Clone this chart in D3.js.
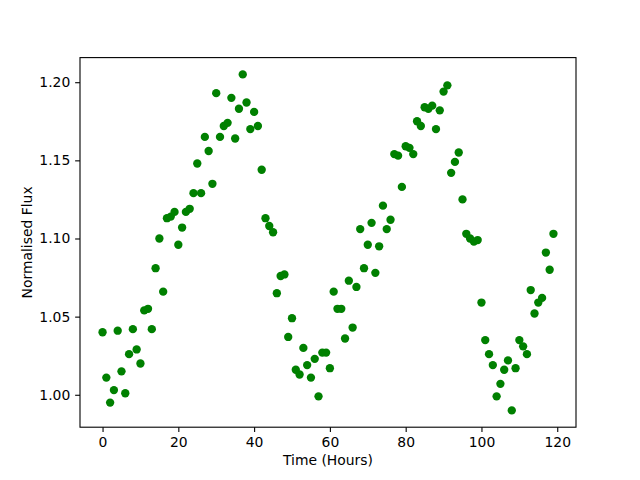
<!DOCTYPE html>
<html>
<head>
<meta charset="utf-8">
<script src="https://cdn.jsdelivr.net/npm/d3@7"></script>
<style>
  body { margin: 0; background: #fff; }
  text { font-family: "DejaVu Sans", sans-serif; }
</style>
</head>
<body>
<div id="chart"></div>
<script>
// Data: one reading per hour
var hours = d3.range(0, 120);
var flux = [
    1.040, 1.011, 0.995, 1.003, 1.041, 1.015, 1.001, 1.026, 1.042, 1.029,
    1.020, 1.054, 1.055, 1.042, 1.081, 1.100, 1.066, 1.113, 1.114, 1.117,
    1.096, 1.107, 1.117, 1.119, 1.129, 1.148, 1.129, 1.165, 1.156, 1.135,
    1.193, 1.165, 1.172, 1.174, 1.190, 1.164, 1.183, 1.205, 1.187, 1.170,
    1.181, 1.172, 1.144, 1.113, 1.108, 1.104, 1.065, 1.076, 1.077, 1.037,
    1.049, 1.016, 1.013, 1.030, 1.019, 1.011, 1.023, 0.999, 1.027, 1.027,
    1.017, 1.066, 1.055, 1.055, 1.036, 1.073, 1.043, 1.069, 1.106, 1.081,
    1.096, 1.110, 1.078, 1.095, 1.121, 1.106, 1.112, 1.154, 1.153, 1.133,
    1.159, 1.158, 1.154, 1.175, 1.172, 1.184, 1.183, 1.185, 1.170, 1.182,
    1.194, 1.198, 1.142, 1.149, 1.155, 1.125, 1.103, 1.100, 1.098, 1.099,
    1.059, 1.035, 1.026, 1.019, 0.999, 1.007, 1.016, 1.022, 0.990, 1.017,
    1.035, 1.031, 1.026, 1.067, 1.052, 1.059, 1.062, 1.091, 1.080, 1.103
];
var xTicks = [0, 20, 40, 60, 80, 100, 120];
var yTicks = [1.00, 1.05, 1.10, 1.15, 1.20];

var svgWidth = 640;
var svgHeight = 480;

var margin = { top: 57.6, right: 64, bottom: 52.8, left: 80 };
var width = svgWidth - margin.left - margin.right;
var height = svgHeight - margin.top - margin.bottom;

var svg = d3.select("#chart")
    .append("svg")
    .attr("width", svgWidth)
    .attr("height", svgHeight);

var chartGroup = svg.append("g")
    .attr("transform", `translate(${margin.left}, ${margin.top})`);

// matplotlib style 5% margins around the data
function padded(ext) {
    var pad = (ext[1] - ext[0]) * 0.05;
    return [ext[0] - pad, ext[1] + pad];
}

var xScale = d3.scaleLinear()
    .domain(padded(d3.extent(hours)))
    .range([0, width]);

var yScale = d3.scaleLinear()
    .domain(padded(d3.extent(flux)))
    .range([height, 0]);

var tickLen = 4.86;

var bottomAxis = d3.axisBottom(xScale)
    .tickValues(xTicks)
    .tickFormat(d3.format("d"))
    .tickSize(tickLen)
    .tickPadding(4.86);

var leftAxis = d3.axisLeft(yScale)
    .tickValues(yTicks)
    .tickFormat(d3.format(".2f"))
    .tickSize(tickLen)
    .tickPadding(4.86);

// points
chartGroup.append("g").selectAll("circle")
    .data(hours)
    .enter()
    .append("circle")
    .attr("cx", (d, i) => xScale(d))
    .attr("cy", (d, i) => yScale(flux[i]))
    .attr("r", 4.17)
    .attr("fill", "#008000");

// frame
chartGroup.append("rect")
    .attr("width", width)
    .attr("height", height)
    .attr("fill", "none")
    .attr("stroke", "#000")
    .attr("stroke-width", 1.1);

var gx = chartGroup.append("g")
    .attr("transform", `translate(0, ${height})`)
    .call(bottomAxis);

var gy = chartGroup.append("g")
    .call(leftAxis);

[gx, gy].forEach(function (g) {
    g.select(".domain").remove();
    g.selectAll(".tick line").attr("stroke", "#000").attr("stroke-width", 1.1);
    g.selectAll(".tick text")
        .attr("fill", "#000")
        .attr("font-size", "13.9px")
        .attr("font-family", "DejaVu Sans");
});

// axis labels
chartGroup.append("text")
    .attr("transform", "rotate(-90)")
    .attr("x", -height / 2)
    .attr("y", 32 - margin.left)
    .attr("text-anchor", "middle")
    .attr("font-size", "13.9px")
    .text("Normalised Flux");

chartGroup.append("text")
    .attr("x", width / 2)
    .attr("y", 465 - margin.top)
    .attr("text-anchor", "middle")
    .attr("font-size", "13.9px")
    .text("Time (Hours)");
</script>
</body>
</html>
